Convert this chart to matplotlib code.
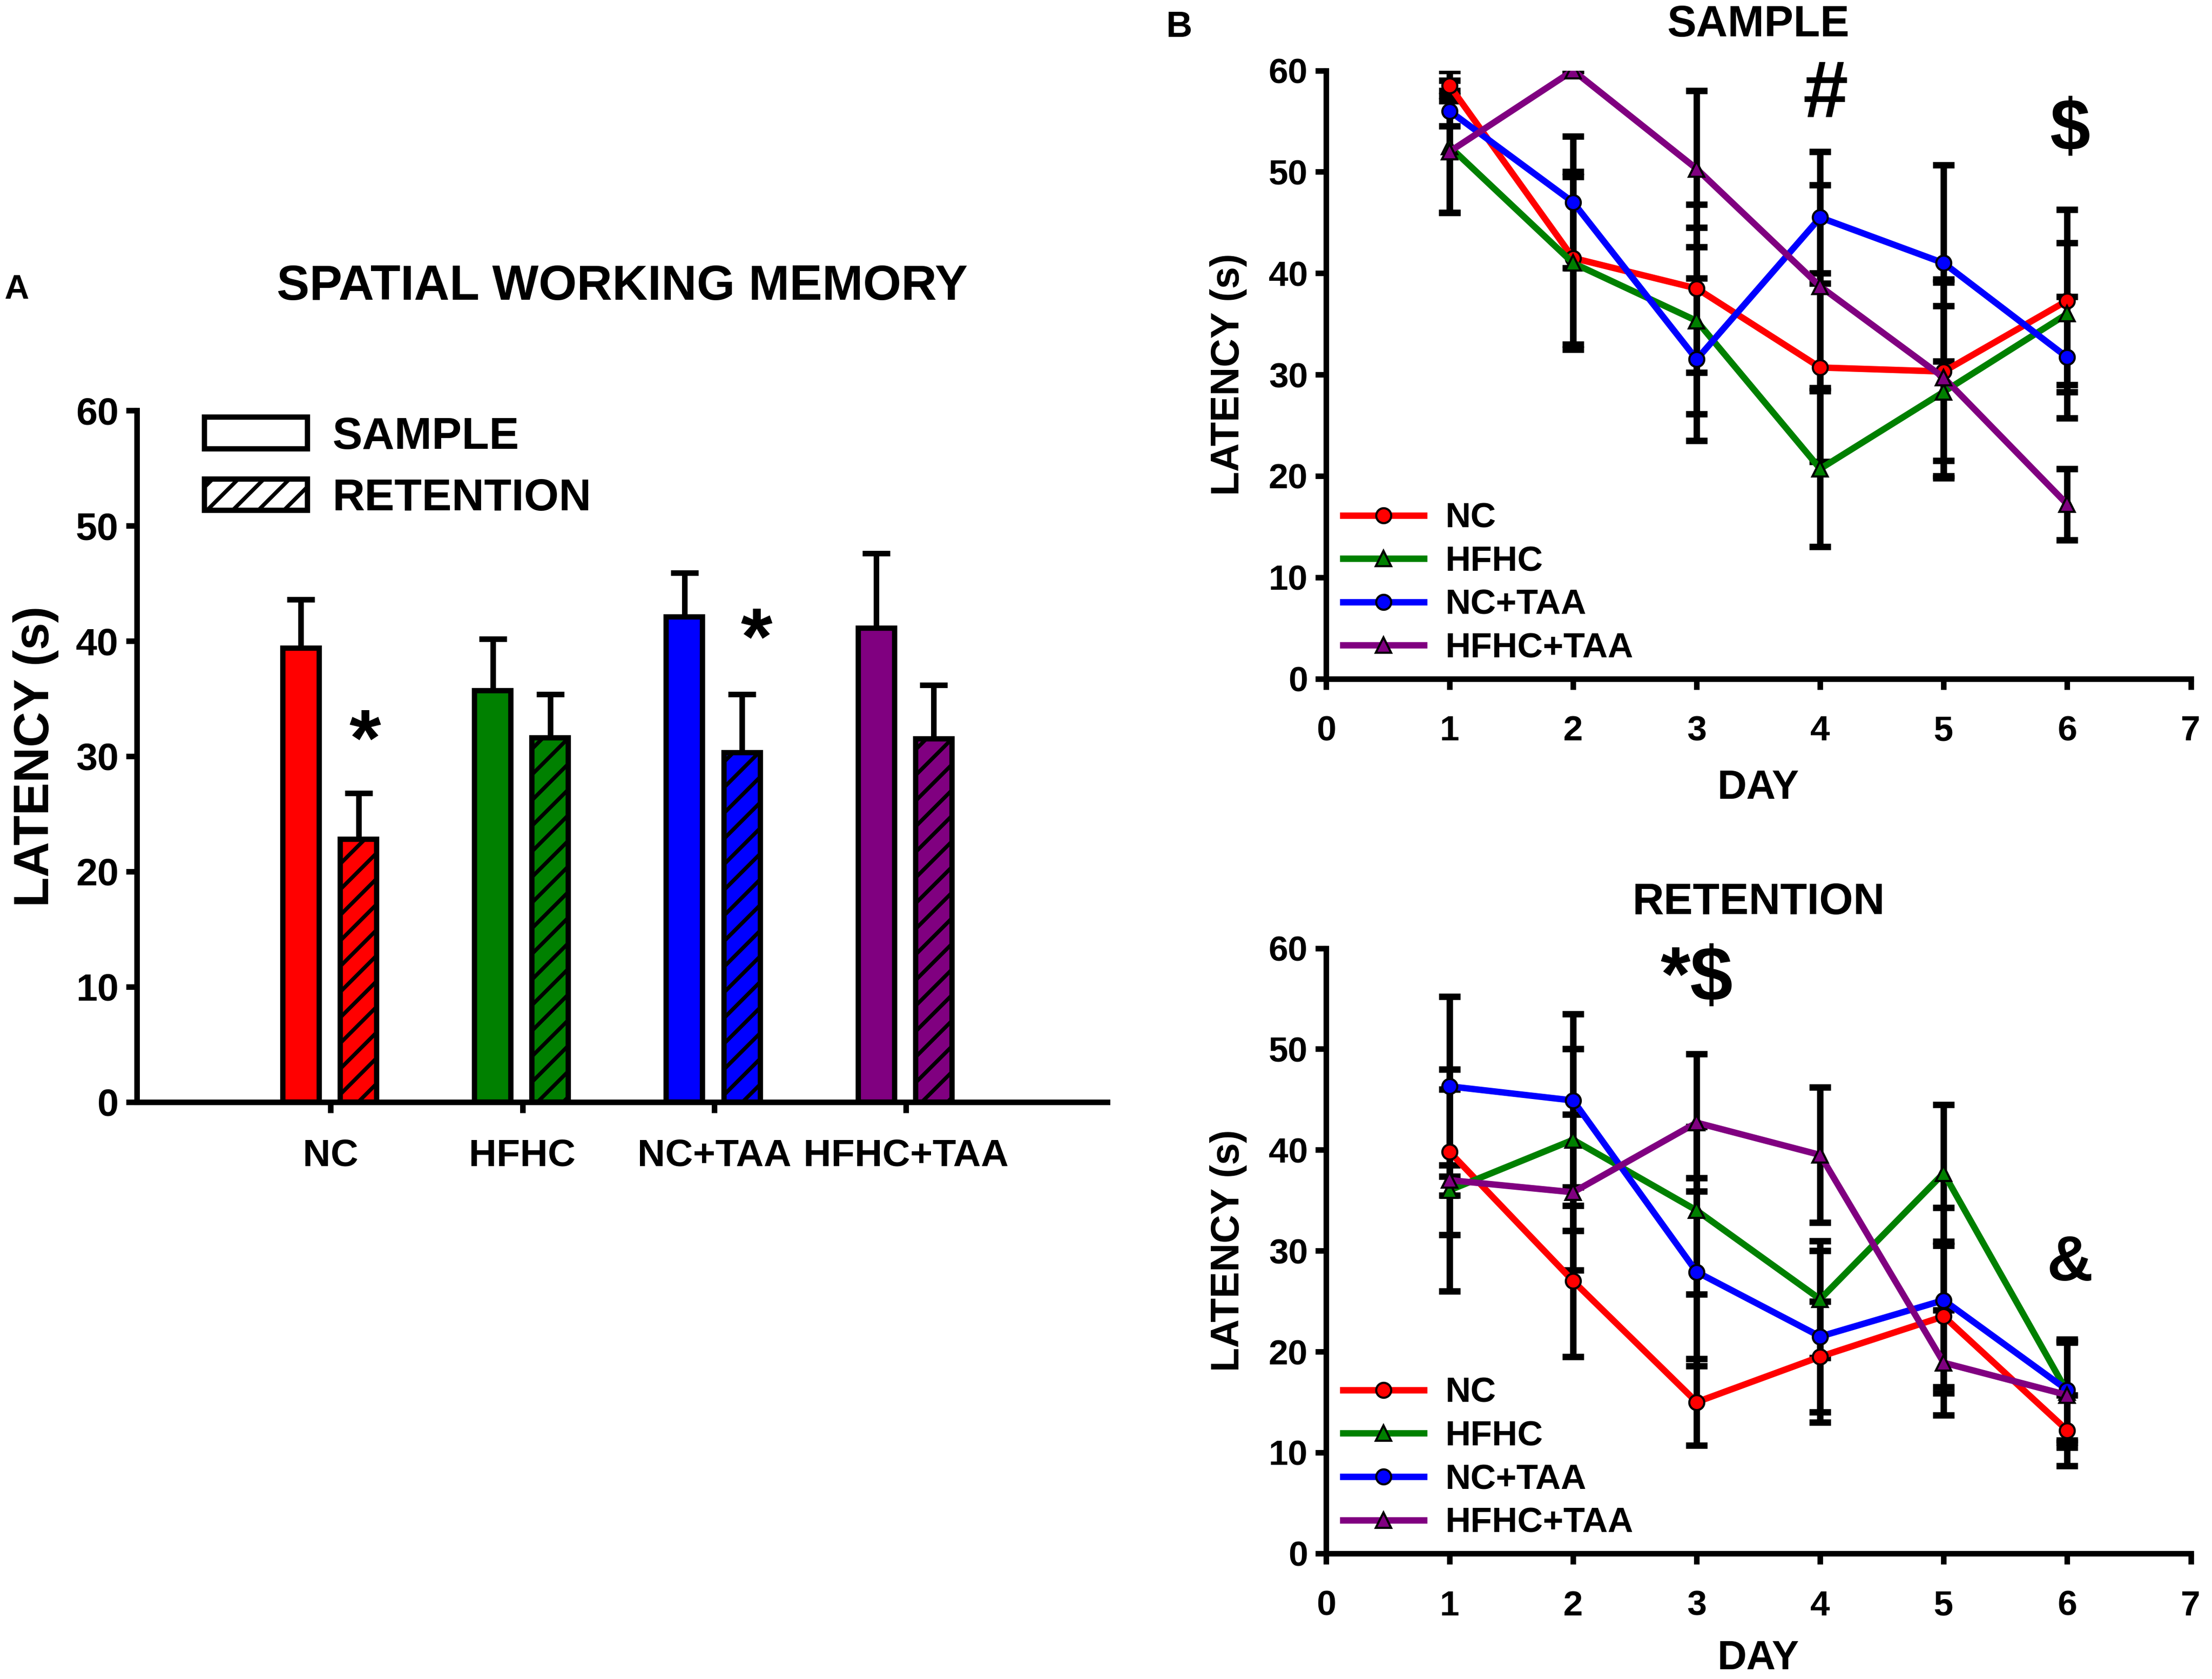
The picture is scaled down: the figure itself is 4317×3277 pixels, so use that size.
import matplotlib
matplotlib.use("Agg")
import matplotlib.pyplot as plt
from matplotlib.patches import Patch

plt.rcParams['font.family'] = ['Liberation Sans', 'DejaVu Sans']
plt.rcParams['font.weight'] = 'bold'
plt.rcParams['hatch.linewidth'] = 1.8

# ---- panel A data ----
groups = ['NC', 'HFHC', 'NC+TAA', 'HFHC+TAA']
colors = ['#ff0000', '#008000', '#0000ff', '#800080']
sample_mean = [39.4, 35.7, 42.1, 41.1]
sample_sem = [4.2, 4.5, 3.8, 6.5]
retention_mean = [22.8, 31.6, 30.3, 31.5]
retention_sem = [4.0, 3.8, 5.1, 4.7]

# ---- panel B data ----
days = [1, 2, 3, 4, 5, 6]
markers = ['o', '^', 'o', '^']
samp_nc = [58.5, 41.5, 38.5, 30.7, 30.3, 37.3]
samp_hfhc = [52.5, 41.0, 35.3, 20.7, 28.3, 36.0]
samp_nctaa = [56.0, 47.0, 31.5, 45.5, 41.0, 31.7]
samp_hfhctaa = [52.0, 60.0, 50.3, 38.7, 29.7, 17.2]
samp_nc_err = [1.5, 8.5, 8.3, 9.3, 8.8, 9.0]
samp_hfhc_err = [6.5, 8.5, 9.2, 7.7, 8.5, 7.0]
samp_nctaa_err = [1.5, 6.5, 8.0, 6.5, 9.7, 6.0]
samp_hfhctaa_err = [6.0, 0.0, 7.7, 10.0, 9.7, 3.5]

ret_nc = [39.8, 27.0, 15.0, 19.5, 23.5, 12.2]
ret_hfhc = [36.0, 41.0, 34.0, 25.2, 37.7, 16.0]
ret_nctaa = [46.3, 44.9, 27.9, 21.5, 25.1, 16.2]
ret_hfhctaa = [37.0, 35.8, 42.7, 39.5, 18.9, 15.7]
ret_nc_err = [8.2, 7.5, 4.3, 5.5, 7.0, 3.5]
ret_hfhc_err = [10.0, 9.0, 8.3, 5.8, 6.8, 5.0]
ret_nctaa_err = [8.9, 8.6, 9.3, 8.5, 9.2, 5.0]
ret_hfhctaa_err = [1.5, 7.7, 6.8, 6.7, 5.2, 5.2]

SPINE = 2.6


def style_axes(ax, size):
    for s in ['top', 'right']:
        ax.spines[s].set_visible(False)
    for s in ['left', 'bottom']:
        ax.spines[s].set_linewidth(SPINE)
    ax.tick_params(width=SPINE, length=5, labelsize=size, direction='out')
    for lab in ax.get_xticklabels() + ax.get_yticklabels():
        lab.set_fontweight('bold')


fig = plt.figure(figsize=(4317 / 300, 3277 / 300), dpi=300)

# ---------------- panel A ----------------
axA = fig.add_axes([0.0619, 0.3437, 0.4387, 0.4118])
x = list(range(len(groups)))
w = 0.19
for i in x:
    axA.bar(i - 0.155, sample_mean[i], w, color=colors[i], edgecolor='black',
            linewidth=2.5, zorder=2)
    axA.bar(i + 0.145, retention_mean[i], w, color=colors[i], edgecolor='black',
            linewidth=2.5, hatch='//', zorder=2)
    axA.errorbar(i - 0.155, sample_mean[i], yerr=[[0], [sample_sem[i]]], fmt='none',
                 ecolor='black', elinewidth=2.6, capsize=6.5, capthick=2.6, zorder=1)
    axA.errorbar(i + 0.145, retention_mean[i], yerr=[[0], [retention_sem[i]]], fmt='none',
                 ecolor='black', elinewidth=2.6, capsize=6.5, capthick=2.6, zorder=1)

axA.set_xlim(-1.01, 4.05)
axA.set_ylim(0, 60)
axA.set_yticks(range(0, 61, 10))
axA.set_xticks(x)
axA.set_xticklabels(groups)
style_axes(axA, 18)
axA.tick_params(axis='x', labelsize=18, pad=12)
axA.set_ylabel('LATENCY (s)', fontsize=23, fontweight='bold', labelpad=8)
axA.set_title('SPATIAL WORKING MEMORY', fontsize=23, fontweight='bold', pad=52)
axA.text(0.18, 31.0, '*', fontsize=38, fontweight='bold', ha='center', va='center')
axA.text(2.22, 39.8, '*', fontsize=38, fontweight='bold', ha='center', va='center')

legA = axA.legend(handles=[Patch(facecolor='white', edgecolor='black', linewidth=2.5),
                           Patch(facecolor='white', edgecolor='black', linewidth=2.5, hatch='//')],
                  labels=['SAMPLE', 'RETENTION'], loc='upper left',
                  bbox_to_anchor=(0.028, 1.05), frameon=False, fontsize=21,
                  handlelength=2.3, handleheight=0.7, labelspacing=0.45, handletextpad=0.55)
for t in legA.get_texts():
    t.set_fontweight('bold')

fig.text(0.002, 0.822, 'A', fontsize=16, fontweight='bold')
fig.text(0.527, 0.978, 'B', fontsize=17, fontweight='bold')


# ---------------- panel B ----------------
def line_panel(ax, series, errs, title, xpad):
    for vals, err in zip(series, errs):
        ax.errorbar(days, vals, yerr=err, fmt='none', ecolor='black', elinewidth=3,
                    capsize=5, capthick=3, zorder=2)
    for vals, c, m, lab in zip(series, colors, markers, groups):
        ax.plot(days, vals, color=c, lw=3, marker=m, mfc=c, mec='black', mew=1.0,
                ms=7, zorder=3, label=lab)
    ax.set_xlim(0, 7)
    ax.set_ylim(0, 60)
    ax.set_xticks(range(0, 8))
    ax.set_yticks(range(0, 61, 10))
    style_axes(ax, 16.5)
    ax.tick_params(axis='x', pad=12)
    ax.set_ylabel('LATENCY (s)', fontsize=18.5, fontweight='bold', labelpad=10)
    ax.set_xlabel('DAY', fontsize=19, fontweight='bold', labelpad=xpad)
    ax.set_title(title, fontsize=20.5, fontweight='bold', pad=16)
    leg = ax.legend(loc='lower left', bbox_to_anchor=(-0.005, -0.012), frameon=False,
                    fontsize=16.5, handlelength=2.3, numpoints=1, labelspacing=0.3,
                    handletextpad=0.6, borderpad=0.3, borderaxespad=0.3)
    for t in leg.get_texts():
        t.set_fontweight('bold')


axS = fig.add_axes([0.5995, 0.5958, 0.3909, 0.3622])
line_panel(axS, [samp_nc, samp_hfhc, samp_nctaa, samp_hfhctaa],
           [samp_nc_err, samp_hfhc_err, samp_nctaa_err, samp_hfhctaa_err], 'SAMPLE', 10)
axS.text(4.04, 57.5, '#', fontsize=38, fontweight='bold', ha='center', va='center')
axS.text(6.02, 54.0, '$', fontsize=34, fontweight='bold', ha='center', va='center')

axR = fig.add_axes([0.5995, 0.0748, 0.3909, 0.3605])
line_panel(axR, [ret_nc, ret_hfhc, ret_nctaa, ret_hfhctaa],
           [ret_nc_err, ret_hfhc_err, ret_nctaa_err, ret_hfhctaa_err], 'RETENTION', 8)
axR.text(3.0, 56.8, '*$', fontsize=36, fontweight='bold', ha='center', va='center')
axR.text(6.02, 28.7, '&', fontsize=30, fontweight='bold', ha='center', va='center')

fig.savefig('out.png', dpi=300)
